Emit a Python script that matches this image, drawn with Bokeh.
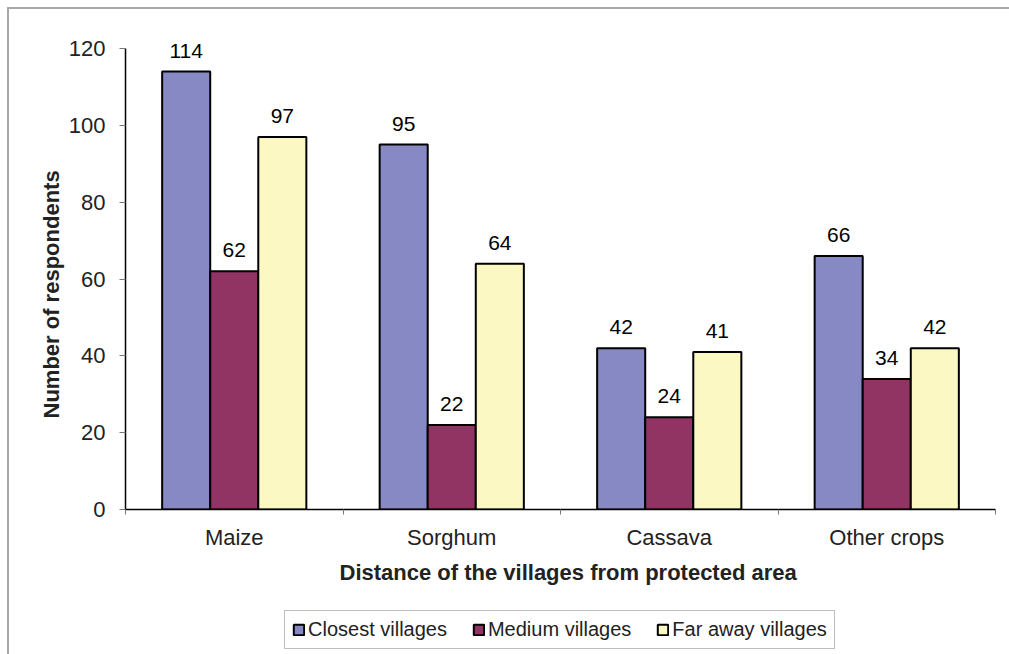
from bokeh.plotting import figure
from bokeh.layouts import column
from bokeh.models import (ColumnDataSource, FixedTicker, Legend, LegendItem, Range1d, Title)
from bokeh.core.properties import value
from bokeh.embed import file_html
from bokeh.resources import INLINE

crops = ["Maize", "Sorghum", "Cassava", "Other crops"]
closest = [114, 95, 42, 66]
medium = [62, 22, 24, 34]
far_away = [97, 64, 41, 42]
series_names = ["Closest villages", "Medium villages", "Far away villages"]
series_colors = ["#8689C3", "#913363", "#FBF8C4"]
y_ticks = [0, 20, 40, 60, 80, 100, 120]
x_title = "Distance of the villages from protected area"
y_title = "Number of respondents"

FONT = "Liberation Sans"
bar_w = 0.221
series = [closest, medium, far_away]

# the range runs a little past 120 so the tallest value label has room;
# the axis line itself stops at 120
p = figure(width=1000, height=595, output_backend="svg", toolbar_location=None,
           x_range=Range1d(0, 4), y_range=Range1d(0, 126),
           min_border_left=116, min_border_right=14, min_border_top=16,
           min_border_bottom=95)
p.outline_line_color = None
p.grid.visible = False

for k, (vals, col) in enumerate(zip(series, series_colors)):
    xs = [i + 0.5 + (k - 1) * bar_w for i in range(len(crops))]
    src = ColumnDataSource(dict(x=xs, top=vals, lbl=[str(v) for v in vals]))
    p.vbar(x="x", top="top", width=bar_w, bottom=0, source=src,
           fill_color=col, line_color="black", line_width=2)
    p.text(x="x", y="top", text="lbl", source=src, text_align="center",
           text_baseline="bottom", y_offset=-14, text_font=value(FONT),
           text_font_size="21px", text_color="black")

xa = p.xaxis[0]
xa.ticker = FixedTicker(ticks=[i + 0.5 for i in range(len(crops))],
                        minor_ticks=list(range(len(crops) + 1)))
xa.major_label_overrides = {i + 0.5: c for i, c in enumerate(crops)}
xa.major_tick_line_color = None
xa.major_tick_out = 5
xa.minor_tick_out = 5
xa.minor_tick_in = 0
xa.minor_tick_line_color = "#777777"
xa.axis_line_color = "black"
xa.axis_line_width = 1.5
xa.major_label_text_font = FONT
xa.major_label_text_font_size = "22px"
xa.major_label_text_color = "#222222"
xa.major_label_standoff = 10

ya = p.yaxis[0]
ya.ticker = FixedTicker(ticks=y_ticks)
ya.bounds = (0, 120)
ya.major_tick_out = 6
ya.major_tick_in = 0
ya.minor_tick_line_color = None
ya.major_tick_line_color = "#777777"
ya.axis_line_color = "black"
ya.axis_line_width = 1.5
ya.major_label_text_font = FONT
ya.major_label_text_font_size = "22px"
ya.major_label_text_color = "#222222"
ya.major_label_standoff = 14

# axis titles, centred on the whole chart area rather than the plot frame
p.add_layout(Title(text=x_title, align="left", offset=214, standoff=10,
                   text_font=FONT, text_font_size="22px", text_font_style="bold",
                   text_color="#222222"), "below")
p.add_layout(Title(text=y_title, align="left", offset=91, standoff=4,
                   text_font=FONT, text_font_size="22px", text_font_style="bold",
                   text_color="#222222"), "left")

# legend strip underneath the chart; the swatch renderers stay hidden
leg = figure(width=1000, height=50, output_backend="svg", toolbar_location=None,
             x_range=Range1d(0, 4), y_range=Range1d(0, 126),
             x_axis_type=None, y_axis_type=None,
             min_border_left=0, min_border_right=0, min_border_top=0,
             min_border_bottom=0)
leg.outline_line_color = None
leg.grid.visible = False
items = []
for vals, name, col in zip(series, series_names, series_colors):
    swatch = leg.vbar(x=[i + 0.5 for i in range(len(crops))], top=vals, bottom=0,
                      width=bar_w, fill_color=col, line_color="black", line_width=2,
                      visible=False)
    items.append(LegendItem(label=name, renderers=[swatch]))

legend = Legend(items=items, orientation="horizontal", location=(159, 5),
                label_text_font=FONT, label_text_font_size="20px",
                label_text_color="#222222", glyph_width=13, glyph_height=13,
                label_standoff=3, spacing=25, padding=7, margin=0,
                border_line_color="#808080", border_line_width=1.5,
                background_fill_alpha=1)
leg.add_layout(legend, "center")

page = column(p, leg, spacing=0)
page.margin = (7, 0, 0, 7)
page.styles = {"border-left": "2px solid #a8a8a8", "border-top": "2px solid #a8a8a8"}

open("out.html", "w").write(file_html(page, INLINE))
